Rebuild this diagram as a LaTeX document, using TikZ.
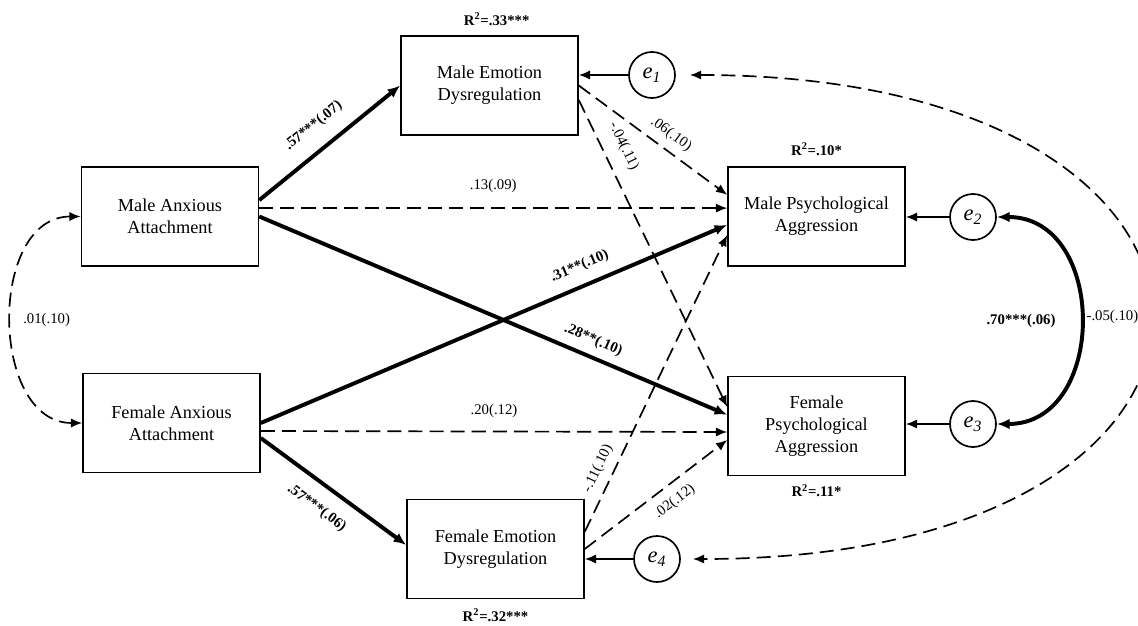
\documentclass[tikz,border=0pt]{standalone}
\usepackage{fontspec}
\setmainfont{Liberation Serif}
\usepackage{tikz}
\usetikzlibrary{positioning, arrows.meta}
\tikzstyle{varbox} = [rectangle, minimum width=4.42cm, minimum height=2.47cm, text centered, align=center, draw=black, line width=1.2pt, font=\fontsize{13}{15.6}\selectfont]
\tikzstyle{errnode} = [circle, draw=black, line width=1.2pt, minimum size=1.15cm, inner sep=0pt, font=\fontsize{16}{18}\selectfont\itshape]
\tikzstyle{arrow} = [line width=1.2pt, -{Latex[length=8pt,width=6.5pt]}]
\tikzstyle{strong} = [line width=2.8pt, -{Latex[length=9pt,width=7.5pt]}]
\tikzstyle{dpath} = [arrow, dash pattern=on 10pt off 5pt]
\tikzstyle{dcorr} = [line width=1.2pt, dash pattern=on 10pt off 5pt, {Latex[length=8pt,width=6.5pt]}-{Latex[length=8pt,width=6.5pt]}]
\tikzstyle{scorr} = [line width=2.8pt, {Latex[length=9pt,width=7.5pt]}-{Latex[length=9pt,width=7.5pt]}]
\tikzstyle{coef} = [font=\fontsize{10.5}{12}\selectfont]
\tikzstyle{bcoef} = [font=\fontsize{10.5}{12}\selectfont\bfseries]
\tikzstyle{rsq} = [font=\fontsize{10.5}{12}\selectfont\bfseries]

\begin{document}
\begin{tikzpicture}[x=0.025cm, y=-0.025cm]
  \useasboundingbox (0,0) rectangle (1138,625);
  % attachment
  \node (maa) [varbox] at (170,216.5) {Male Anxious\\Attachment};
  \node (faa) [varbox] at (171.5,423) {Female Anxious\\Attachment};
  % emotion dysregulation
  \node (med) [varbox] at (489.5,85.5) {Male Emotion\\Dysregulation};
  \node (fed) [varbox] at (495.5,549) {Female Emotion\\Dysregulation};
  % aggression
  \node (mpa) [varbox] at (816.5,216.5) {Male Psychological\\Aggression};
  \node (fpa) [varbox] at (816.5,426) {Female\\Psychological\\Aggression};
  % R squared
  \node (rmed) [rsq, above=0.12cm of med, xshift=0.18cm] {R\textsuperscript{2}=.33***};
  \node (rmpa) [rsq, above=0.15cm of mpa] {R\textsuperscript{2}=.10*};
  \node (rfpa) [rsq, below=0.08cm of fpa] {R\textsuperscript{2}=.11*};
  \node (rfed) [rsq, below=0.12cm of fed] {R\textsuperscript{2}=.32***};
  % errors
  \node (e1) [errnode] at (652,75) {e\textsubscript{1}};
  \node (e2) [errnode] at (973,217) {e\textsubscript{2}};
  \node (e3) [errnode] at (973,424) {e\textsubscript{3}};
  \node (e4) [errnode] at (657,559) {e\textsubscript{4}};
  \draw [arrow] (e1) -- (e1 -| med.east);
  \draw [arrow] (e2) -- (e2 -| mpa.east);
  \draw [arrow] (e3) -- (e3 -| fpa.east);
  \draw [arrow] (e4) -- (e4 -| fed.east);
  % paths from attachment
  \draw [strong] ([yshift=0.41cm]maa.east) -- node (l1) [bcoef, pos=0.49, sloped, above=0.25cm] {.57***(.07)} (med.west);
  \draw [dpath] ([yshift=0.21cm]maa.east) -- node (l2) [coef, above=0.25cm] {.13(.09)} ([yshift=0.21cm]mpa.west);
  \draw [strong] (maa.east) -- node (l3) [bcoef, pos=0.7, sloped, above=0.08cm] {.28**(.10)} ([yshift=0.28cm]fpa.west);
  \draw [strong] (faa.east) -- node (l4) [bcoef, pos=0.7, sloped, above=0.15cm] {.31**(.10)} ([yshift=-0.21cm]mpa.west);
  \draw [dpath] ([yshift=-0.2cm]faa.east) -- node (l5) [coef, above=0.2cm] {.20(.12)} ([yshift=-0.15cm]fpa.west);
  \draw [strong] ([yshift=-0.375cm]faa.east) -- node (l6) [bcoef, pos=0.48, sloped, below=0.25cm] {.57***(.06)} ([yshift=0.1cm]fed.west);
  % paths from emotion dysregulation
  \draw [dpath] (med.east) -- node (l7) [coef, pos=0.56, sloped, above=0.08cm] {.06(.10)} ([yshift=0.54cm]mpa.west);
  \draw [dpath] ([yshift=-0.36cm]med.east) -- node (l8) [coef, pos=0.18, sloped, above=0.2cm] {-.04(.11)} ([yshift=0.475cm]fpa.west);
  \draw [dpath] ([yshift=0.43cm]fed.east) -- node (l9) [coef, pos=0.19, sloped, above=0.08cm] {-.11(.10)} ([yshift=-0.46cm]mpa.west);
  \draw [dpath] (fed.east) -- node (l10) [coef, pos=0.56, sloped, below=0.12cm] {.02(.12)} ([yshift=-0.35cm]fpa.west);
  % covariances
  \draw [dcorr] (maa.west) .. controls +(-93,0) and +(-93,0) .. node (l11) [coef, pos=0.5, right=0.15cm] {.01(.10)} (faa.west);
  \draw [scorr] (e2.east) .. controls +(111,0) and +(111,0) .. node (l12) [bcoef, pos=0.5, left=0.45cm] {.70***(.06)} (e3.east);
  \draw [dcorr, shorten <=0.35cm, shorten >=0.3cm] (e1.east) .. controls +(625,0) and +(625,0) .. node (l13) [coef, pos=0.5, anchor=west, xshift=-1.65cm] {-.05(.10)} (e4.east);
\end{tikzpicture}
\end{document}
